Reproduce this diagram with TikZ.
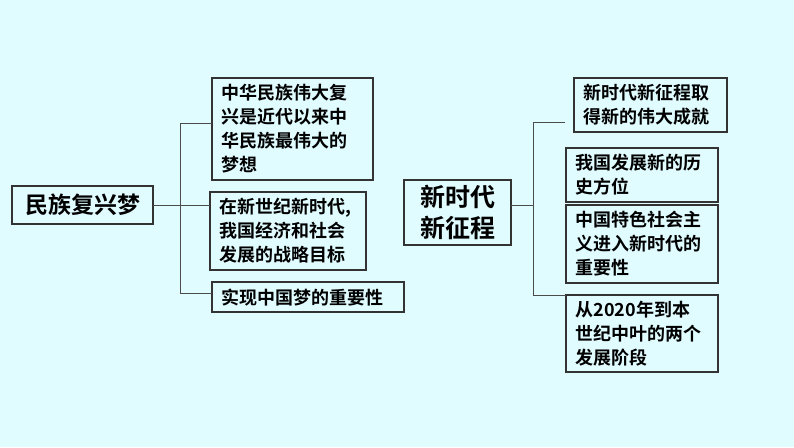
\documentclass[tikz,border=0pt]{standalone}
\usepackage{fontspec}
\setmainfont{Noto Sans CJK SC Bold}
\begin{document}
\begin{tikzpicture}[x=1pt,y=-1pt,
  bx/.style={draw=black!80,line width=1.2pt,inner sep=0pt},
  ln/.style={draw=black!70,line width=1pt},
  t/.style={font=\fontsize{18}{24}\selectfont,align=left,text=black}]
\fill[blue!8!cyan!12!white] (0,0) rectangle (794,447);
\useasboundingbox (0,0) rectangle (794,447);
\newcommand{\bx}[5]{\draw[bx] (#1,#2) rectangle (#3,#4); \node[t,anchor=north west] at (#1+6,#2+3) {#5};}
\draw[bx] (12,186) rectangle (153,224);
\node[font=\fontsize{23}{28}\selectfont] (L) at (82.5,205) {民族复兴梦};
\bx{212}{78}{373}{180}{中华民族伟大复\\兴是近代以来中\\华民族最伟大的\\梦想}
\bx{210}{192}{366}{270}{在新世纪新时代,\\我国经济和社会\\发展的战略目标}
\bx{212}{282}{404}{312}{实现中国梦的重要性}
\coordinate (a1) at (153,205); \coordinate (a2) at (210,205);
\draw[ln] (a1) -- (a2);
\draw[ln] (212,123) -| (180,293) -- (212,293);
\draw[bx] (404,180) rectangle (511,245);
\node[font=\fontsize{25}{31}\selectfont,align=left] (R) at (457.5,212.5) {新时代\\新征程};
\bx{574}{78}{727}{132}{新时代新征程取\\得新的伟大成就}
\bx{566}{148}{718}{202}{我国发展新的历\\史方位}
\bx{566}{205}{718}{283}{中国特色社会主\\义进入新时代的\\重要性}
\bx{566}{295}{718}{372}{从2020年到本\\世纪中叶的两个\\发展阶段}
\draw[ln] (511,205) -- (533,205);
\draw[ln] (565,122) -- (533,122) -- (533,295) -- (566,295);
\end{tikzpicture}
\end{document}
